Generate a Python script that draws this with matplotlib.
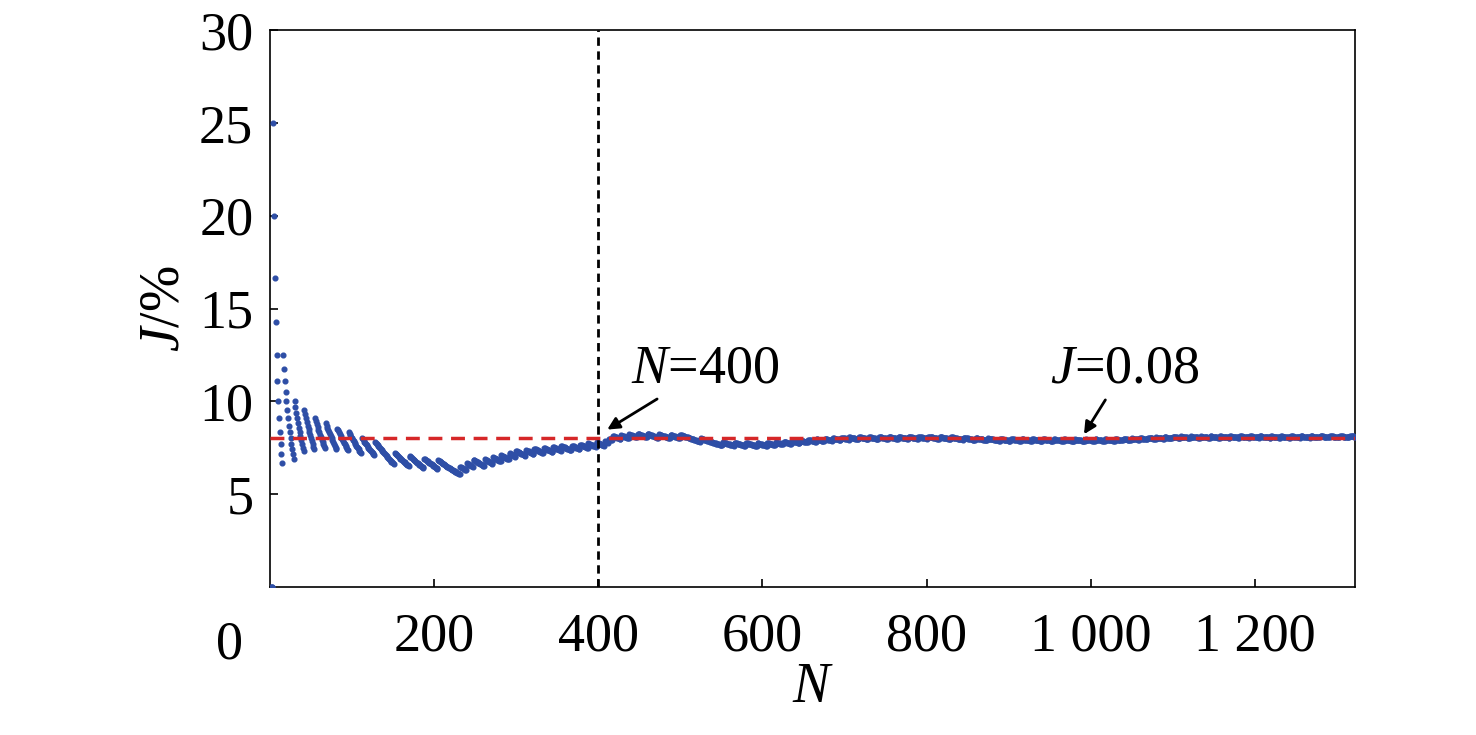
import numpy as np
import matplotlib.pyplot as plt

plt.rcParams['font.family'] = ['Liberation Serif', 'DejaVu Serif']
plt.rcParams['mathtext.fontset'] = 'custom'
plt.rcParams['mathtext.it'] = 'Liberation Serif:italic'
plt.rcParams['mathtext.rm'] = 'Liberation Serif'

hits = [4, 16, 30, 42, 55, 68, 82, 96, 112, 128, 152, 170, 188, 205, 232, 240, 248,
        262, 272, 282, 292, 300, 312, 322, 334, 345, 355, 368, 378, 388, 398, 408,
        413, 418, 428, 438, 448, 460, 474, 488, 500, 525, 552, 566, 580, 594, 606, 616,
        626, 636, 646, 656, 666, 676, 686, 696, 706, 718, 730, 742, 754, 766, 778,
        790, 802, 816, 830, 845, 860, 875, 890, 903, 916, 929, 942, 955, 968, 981,
        994, 1006, 1018, 1030, 1040, 1050, 1060, 1070, 1080, 1090, 1100, 1110, 1122,
        1134, 1146, 1158, 1170, 1182, 1194, 1206, 1220, 1232, 1244, 1256, 1268, 1280,
        1292, 1304, 1316]
n_total = 1322
J_ref = 8.0
N_mark = 400

N = np.arange(1, n_total + 1)
flags = np.isin(N, hits).astype(float)
J = np.cumsum(flags) / N * 100

fig = plt.figure(figsize=(14.76, 7.35), dpi=100)
ax = fig.add_axes([270/1476, 1 - 587/735, (1355-270)/1476, (587-30)/735])
ax.plot(N, J, 'o', color='#2e4ea6', markersize=3.4, zorder=3)
ax.axhline(J_ref, color='#d62728', ls=(0, (4, 2.5)), lw=2.5, zorder=4)
ax.axvline(N_mark, color='black', ls=(0, (3, 2)), lw=2, zorder=4)

ax.set_xlim(0, n_total)
ax.set_ylim(0, 30)
ax.set_xticks([200, 400, 600, 800, 1000, 1200])
ax.set_xticklabels(['200', '400', '600', '800', '1 000', '1 200'])
ax.set_yticks([5, 10, 15, 20, 25, 30])
ax.tick_params(direction='in', labelsize=39, length=6, width=1.2, pad=12)
ax.tick_params(axis='x', pad=18)
ax.text(-0.025, -0.06, '0', transform=ax.transAxes, fontsize=39, ha='right', va='top')
for s in ax.spines.values():
    s.set_linewidth(1.2)
ax.set_xlabel('$N$', fontsize=40, labelpad=0)
ax.set_ylabel('$J$/%', fontsize=40, labelpad=6)

ax.annotate('$N$=400', xy=(408, 8.4), xytext=(440, 11.0), fontsize=39,
            arrowprops=dict(arrowstyle='-|>', color='black', lw=2, mutation_scale=18))
ax.annotate('$J$=0.08', xy=(990, 8.1), xytext=(950, 11.0), fontsize=39,
            arrowprops=dict(arrowstyle='-|>', color='black', lw=2, mutation_scale=18))

fig.savefig('out.png', dpi=100)
